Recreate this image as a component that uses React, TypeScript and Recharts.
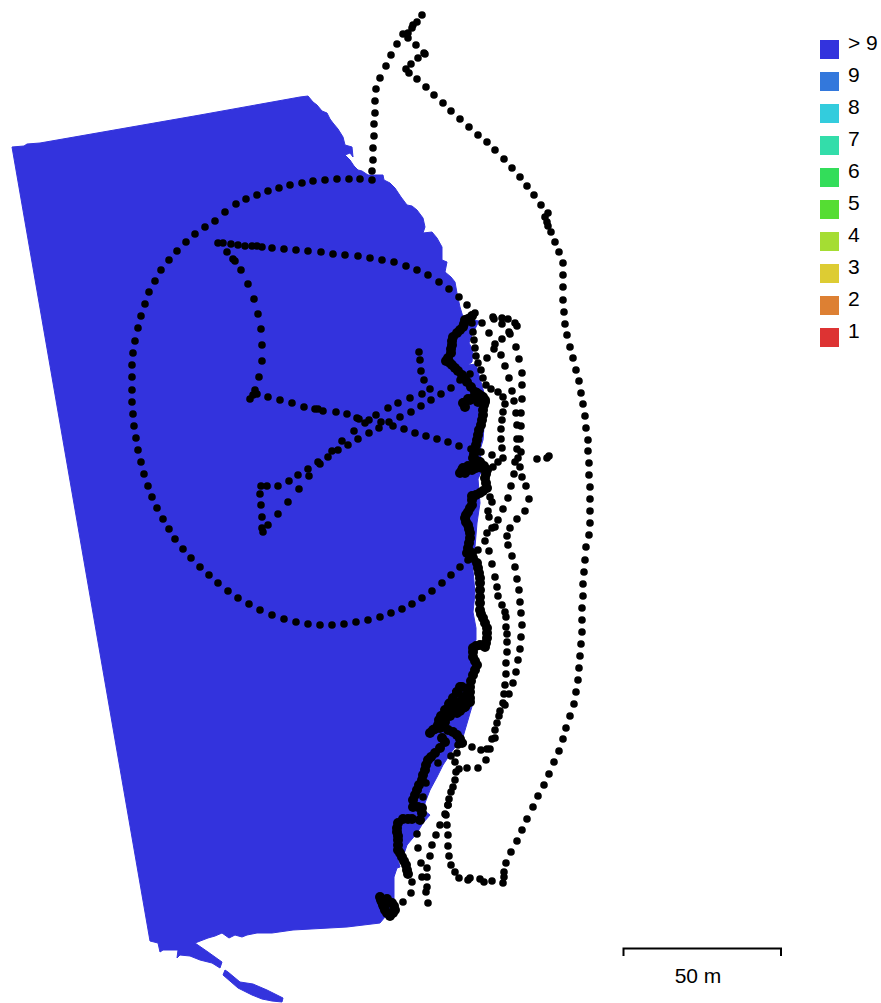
import { ScatterChart, Scatter, XAxis, YAxis } from "recharts";

type Pair = [number, number];

const WIDTH = 881;
const HEIGHT = 1003;
const COVERAGE_COLOR = "#3333dd";

// coverage outline
const coverageOutline: Pair[] = [
  [12, 147], [24, 146], [27, 144], [40, 143], [120, 129], [200, 115], [300, 97], [308, 96], [313, 102], [317, 105],
  [322, 111], [327, 113], [330, 119], [333, 123], [338, 129], [343, 137], [345, 145], [352, 147], [353, 157],
  [350, 153], [345, 155], [350, 160], [354, 166], [358, 170], [362, 171], [368, 175], [383, 175], [384, 180],
  [390, 183], [395, 188], [401, 197], [407, 205], [412, 206], [417, 210], [423, 218], [425, 227], [423, 233],
  [432, 232], [437, 238], [442, 247], [442, 260], [447, 262], [445, 272], [451, 277], [455, 282], [457, 293],
  [460, 307], [463, 317], [472, 320], [479, 321], [472, 335], [469, 343], [473, 350], [472, 362], [468, 365],
  [476, 364], [486, 400], [484, 427], [483, 440], [480, 450], [482, 470], [478, 479], [480, 503], [477, 523],
  [475, 547], [473, 570], [475, 593], [473, 612], [476, 628], [476, 640], [472, 647], [475, 665], [473, 690],
  [473, 703], [468, 720], [463, 737], [453, 750], [443, 765], [437, 777], [430, 790], [425, 803], [425, 811],
  [430, 815], [423, 823], [417, 833], [407, 845], [403, 857], [398, 860], [400, 867], [397, 868], [394, 877],
  [394, 900], [397, 908], [392, 913], [385, 917], [380, 923], [347, 927], [293, 930], [272, 933], [257, 933],
  [247, 935], [242, 937], [235, 935], [229, 938], [222, 933], [215, 936], [208, 938], [195, 943], [208, 952],
  [222, 962], [220, 968], [212, 963], [200, 960], [190, 956], [180, 955], [177, 958], [178, 950], [163, 950],
  [160, 952], [158, 943], [150, 941],
];

const coverageTail: Pair[] = [
  [225, 970], [228, 972], [240, 982], [253, 984], [267, 990], [283, 998], [282, 1002], [272, 1001], [262, 999],
  [252, 995], [238, 988], [223, 975],
];

// camera positions, one list per stretch of the flight
const outerLoop: Pair[] = [
  [422, 15], [417, 22], [413, 25], [412, 28], [408, 33], [403, 34], [408, 38], [416, 45], [424, 53], [425, 54],
  [418, 58], [411, 64], [406, 69], [409, 73], [417, 79], [426, 87], [434, 95], [443, 103], [451, 111], [460, 119],
  [469, 127], [478, 135], [487, 142], [495, 150], [504, 159], [512, 168], [520, 177], [527, 186], [534, 195],
  [541, 205], [548, 213], [545, 217], [547, 222], [548, 226], [551, 232], [555, 242], [559, 252], [563, 263],
  [563, 275], [563, 287], [563, 300], [564, 312], [565, 324], [567, 335], [570, 347], [573, 358], [576, 370],
  [579, 381], [581, 393], [583, 404], [585, 416], [586, 428], [588, 440], [588, 451], [589, 463], [589, 475],
  [590, 487], [590, 499], [590, 511], [590, 523], [589, 535], [586, 547], [585, 560], [584, 572], [583, 584],
  [583, 596], [582, 608], [582, 620], [582, 632], [581, 644], [580, 656], [579, 668], [578, 680], [576, 692],
  [574, 704], [570, 716], [566, 728], [563, 739], [559, 751], [554, 762], [549, 774], [544, 785], [538, 796],
  [533, 807], [527, 819], [522, 830], [517, 841], [511, 852], [506, 863], [504, 872], [504, 877], [503, 883],
  [492, 881], [484, 882], [480, 879], [470, 878], [468, 880], [459, 878], [455, 872], [451, 865], [449, 856],
  [448, 846], [448, 835], [447, 825], [446, 815], [448, 805],
];

const climbOut: Pair[] = [
  [397, 44], [391, 55], [386, 66], [380, 78], [376, 89], [375, 101], [375, 113], [374, 124], [374, 136],
  [373, 148], [373, 160], [372, 171], [372, 180],
];

const circleOrbit: Pair[] = [
  [360, 179], [349, 179], [337, 179], [325, 180], [313, 181], [302, 183], [290, 185], [279, 188], [268, 191],
  [257, 195], [246, 199], [236, 204], [225, 212], [215, 221], [205, 227], [195, 234], [186, 242], [177, 251],
  [169, 260], [161, 270], [155, 281], [149, 292], [145, 304], [141, 316], [138, 328], [135, 341], [133, 353],
  [132, 365], [132, 377], [132, 390], [132, 402], [133, 414], [134, 426], [136, 438], [138, 450], [141, 462],
  [144, 474], [148, 486], [152, 497], [157, 508], [163, 519], [169, 529], [175, 539], [183, 549], [191, 558],
  [200, 567], [209, 575], [218, 583], [228, 591], [238, 598], [249, 604], [260, 610], [272, 615], [284, 619],
  [296, 622], [308, 624], [320, 625], [332, 625], [344, 624], [356, 622], [368, 620], [380, 617], [391, 613],
  [402, 609], [412, 604], [422, 598], [432, 591], [442, 583], [451, 575], [460, 567], [468, 560],
];

const innerPass: Pair[] = [
  [218, 243], [223, 243], [231, 244], [238, 245], [245, 246], [252, 246], [257, 246], [262, 247], [272, 248],
  [284, 249], [296, 250], [308, 251], [321, 252], [333, 254], [345, 255], [358, 256], [370, 258], [382, 260],
  [394, 262], [406, 266], [417, 270], [428, 275], [439, 282], [449, 289], [459, 297], [467, 305], [227, 252],
  [233, 259], [235, 261], [241, 270], [248, 284], [254, 299], [258, 314], [261, 329], [262, 345], [262, 361],
  [259, 377], [255, 390], [257, 394], [253, 395], [250, 399], [268, 397], [280, 400], [292, 403], [304, 407],
  [315, 409], [318, 409], [323, 411], [336, 412], [347, 414], [357, 418], [359, 419], [365, 423], [369, 420],
  [376, 415], [388, 408], [398, 403], [410, 398], [422, 394], [430, 389], [424, 380], [421, 371], [420, 360],
  [419, 352], [451, 388], [441, 394], [431, 400], [421, 406], [411, 412], [400, 417], [389, 422], [393, 426],
  [404, 429], [415, 433], [426, 436], [437, 439], [448, 442], [459, 446], [471, 449], [381, 422], [379, 428],
  [369, 433], [358, 439], [348, 445], [342, 441], [354, 431], [338, 450], [332, 451], [328, 457], [318, 462],
  [320, 464], [308, 469], [309, 476], [298, 475], [299, 489], [289, 481], [278, 486], [267, 486], [261, 486],
  [260, 494], [261, 505], [262, 517], [262, 528], [263, 532], [268, 525], [278, 514], [288, 502], [460, 380],
  [470, 374],
];

const shorePassNear: Pair[] = [
  [475, 313], [472, 316], [472, 323], [473, 332], [474, 340], [475, 348], [476, 356], [478, 363], [481, 370],
  [483, 378], [486, 385], [491, 389], [498, 392], [503, 397], [505, 404], [503, 412], [502, 420], [501, 429],
  [501, 439], [502, 448], [503, 458], [498, 462], [493, 467], [488, 469], [481, 452], [492, 455], [487, 358],
  [482, 323], [489, 333], [490, 497], [492, 502], [488, 511], [489, 517], [498, 520], [495, 527], [492, 528],
  [487, 533], [485, 541], [489, 551], [478, 550], [492, 564], [495, 577], [497, 587], [498, 596], [502, 605],
  [505, 612], [506, 617], [506, 627], [507, 634], [507, 642], [507, 652], [506, 663], [506, 674], [505, 685],
  [504, 694], [503, 703], [505, 705], [500, 711], [499, 716], [497, 723], [495, 730], [495, 738], [492, 739],
  [490, 749], [487, 749], [481, 750], [472, 747], [463, 743], [458, 745], [457, 753], [455, 762], [451, 756],
  [459, 769], [467, 768], [478, 768], [486, 760], [456, 772], [455, 780], [453, 787], [451, 792], [449, 799],
  [448, 805], [445, 814], [440, 825], [436, 835], [432, 845], [430, 856], [427, 868], [427, 877], [422, 877],
  [427, 887], [426, 892], [428, 903], [421, 863], [418, 848], [417, 834], [412, 882], [411, 893], [403, 902],
  [438, 763], [426, 783], [423, 797],
];

const shorePassFar: Pair[] = [
  [493, 317], [494, 319], [502, 318], [508, 319], [515, 323], [517, 326], [502, 324], [510, 334], [509, 332],
  [502, 339], [495, 344], [494, 349], [516, 347], [501, 355], [519, 359], [505, 366], [522, 373], [509, 378],
  [522, 385], [512, 391], [522, 399], [514, 401], [521, 413], [516, 413], [521, 426], [517, 425], [520, 439],
  [517, 439], [517, 449], [521, 452], [518, 458], [515, 462], [520, 467], [514, 474], [522, 477], [526, 486],
  [511, 486], [529, 499], [508, 498], [525, 511], [503, 509], [517, 519], [510, 528], [507, 536], [508, 545],
  [512, 556], [515, 567], [517, 579], [519, 590], [520, 602], [521, 613], [522, 625], [521, 637], [520, 649],
  [518, 660], [516, 672], [513, 683], [509, 694], [537, 459], [547, 458], [549, 456],
];

// the low pass right along the shore, dots overlap into one thick band
const shoreBand: Pair[] = [
  [472, 316], [468, 319], [465, 320], [464, 324], [463, 327], [460, 330], [457, 333], [453, 337], [452, 341],
  [452, 345], [451, 349], [451, 353], [448, 358], [446, 361], [450, 363], [452, 365], [455, 368], [458, 371],
  [462, 375], [465, 379], [467, 382], [471, 387], [475, 392], [477, 393], [480, 395], [483, 397], [485, 400],
  [484, 405], [483, 410], [483, 415], [482, 420], [481, 425], [479, 430], [478, 435], [477, 440], [476, 445],
  [475, 450], [474, 454], [473, 458], [477, 461], [480, 463], [484, 466], [487, 470], [486, 474], [485, 478],
  [486, 483], [487, 488], [483, 491], [480, 493], [476, 495], [472, 496], [472, 500], [472, 505], [470, 508],
  [468, 512], [466, 515], [465, 518], [466, 522], [468, 525], [469, 529], [470, 533], [470, 538], [469, 543],
  [468, 548], [467, 553], [472, 553], [473, 558], [477, 563], [478, 568], [479, 573], [480, 578], [480, 583],
  [480, 590], [480, 597], [480, 603], [480, 610], [481, 614], [483, 618], [485, 623], [487, 628], [487, 633],
  [487, 638], [486, 643], [485, 647], [480, 645], [476, 646], [473, 648], [473, 652], [473, 657], [475, 661],
  [477, 665], [475, 670], [473, 675], [471, 681], [470, 687], [470, 692], [470, 698], [470, 702], [466, 705],
  [463, 708], [460, 702], [457, 692], [462, 687], [463, 697], [453, 707], [465, 707], [460, 711], [457, 713],
  [453, 703], [450, 703], [447, 713], [448, 710], [443, 717], [450, 715], [457, 712], [438, 725], [433, 730],
  [430, 733], [435, 729], [440, 728], [448, 730], [453, 732], [457, 735], [460, 739], [462, 743], [442, 738],
  [445, 742], [440, 748], [435, 753], [431, 757], [428, 760], [426, 765], [425, 770], [423, 775], [422, 780],
  [419, 785], [417, 790], [415, 795], [413, 800], [413, 807], [418, 807], [422, 808], [422, 813], [420, 820],
  [412, 819], [408, 819], [403, 819], [398, 823], [397, 828], [397, 832], [398, 836], [398, 840], [398, 845],
  [398, 850], [400, 853], [402, 857], [404, 861], [406, 865], [407, 870], [408, 874],
  // parallel passes that merge around y 700
  [441, 716], [445, 710], [449, 704], [453, 698], [457, 692], [460, 687], [445, 722], [450, 716], [455, 710],
  [460, 704], [465, 698], [468, 692], [443, 722], [439, 720],
];

const landingLoop: Pair[] = [
  [380, 897], [381, 900], [382, 902], [383, 905], [384, 907], [385, 910], [387, 913], [390, 916], [393, 913],
  [395, 910], [394, 906], [392, 903], [387, 899],
];

const hoverBlobs: Pair[] = [
  [463, 403], [465, 407], [464, 403], [468, 399], [470, 400], [473, 398], [477, 399], [478, 402], [485, 402],
  [460, 473], [463, 468], [468, 466], [475, 465], [480, 462], [465, 473], [472, 470], [482, 468], [462, 470],
  [468, 470], [476, 468],
];

const scaleBar: Pair[] = [[623.5, 956], [623.5, 948.5], [781, 948.5], [781, 956]];

const legendLabels = ["> 9", "9", "8", "7", "6", "5", "4", "3", "2", "1"];
const legendColors = [
  "#3333dd", "#3378dc", "#33ccdd", "#33ddaa", "#33dd5a",
  "#55dd33", "#a5dd33", "#ddcc33", "#dd8033", "#dd3333",
];

const toPoints = (pairs: Pair[]) => pairs.map(([x, y]) => ({ x, y }));

const flightSeries = [outerLoop, climbOut, circleOrbit, innerPass, shorePassNear, shorePassFar];
const thickSeries = [shoreBand, hoverBlobs, landingLoop];

function CameraDot({ cx, cy }: { cx?: number; cy?: number }) {
  return <circle cx={cx} cy={cy} r={3.8} fill="#000" />;
}

// overlapping cameras along the shore never sit exactly on one line, so the band reads wider
function BandDot({ cx, cy }: { cx?: number; cy?: number }) {
  return <circle cx={cx} cy={cy} r={5} fill="#000" />;
}

function NoDot() {
  return <g />;
}

export default function App() {
  return (
    <div
      style={{
        position: "absolute",
        left: 0,
        top: 0,
        width: WIDTH,
        height: HEIGHT,
        overflow: "hidden",
        background: "#fff",
        fontFamily: "'Liberation Sans', Arial, sans-serif",
        color: "#000",
      }}
    >
      <ScatterChart width={WIDTH} height={HEIGHT} margin={{ top: 0, right: 0, bottom: 0, left: 0 }}>
        <XAxis type="number" dataKey="x" domain={[0, WIDTH]} hide />
        <YAxis type="number" dataKey="y" domain={[0, HEIGHT]} reversed hide />
        <Scatter
          data={toPoints(coverageOutline)}
          isAnimationActive={false}
          shape={NoDot}
          line={{ fill: COVERAGE_COLOR, stroke: COVERAGE_COLOR, strokeWidth: 1 }}
          lineJointType="linearClosed"
        />
        <Scatter
          data={toPoints(coverageTail)}
          isAnimationActive={false}
          shape={NoDot}
          line={{ fill: COVERAGE_COLOR, stroke: COVERAGE_COLOR, strokeWidth: 1 }}
          lineJointType="linearClosed"
        />
        {flightSeries.map((pairs, i) => (
          <Scatter key={i} data={toPoints(pairs)} isAnimationActive={false} shape={CameraDot} />
        ))}
        {thickSeries.map((pairs, i) => (
          <Scatter key={i} data={toPoints(pairs)} isAnimationActive={false} shape={BandDot} />
        ))}
        <Scatter
          data={toPoints(scaleBar)}
          isAnimationActive={false}
          shape={NoDot}
          line={{ stroke: "#000", strokeWidth: 2, fill: "none" }}
        />
      </ScatterChart>

      {legendLabels.map((label, i) => (
        <div key={label}>
          <div
            style={{
              position: "absolute",
              left: 820,
              top: 40 + i * 32,
              width: 19,
              height: 19,
              background: legendColors[i],
            }}
          />
          <div
            style={{
              position: "absolute",
              left: 848,
              top: 31 + i * 32,
              fontSize: 21,
              lineHeight: "24px",
              whiteSpace: "nowrap",
            }}
          >
            {label}
          </div>
        </div>
      ))}

      <div
        style={{
          position: "absolute",
          left: 638,
          width: 120,
          top: 964,
          textAlign: "center",
          fontSize: 21,
          lineHeight: "24px",
        }}
      >
        50 m
      </div>
    </div>
  );
}
